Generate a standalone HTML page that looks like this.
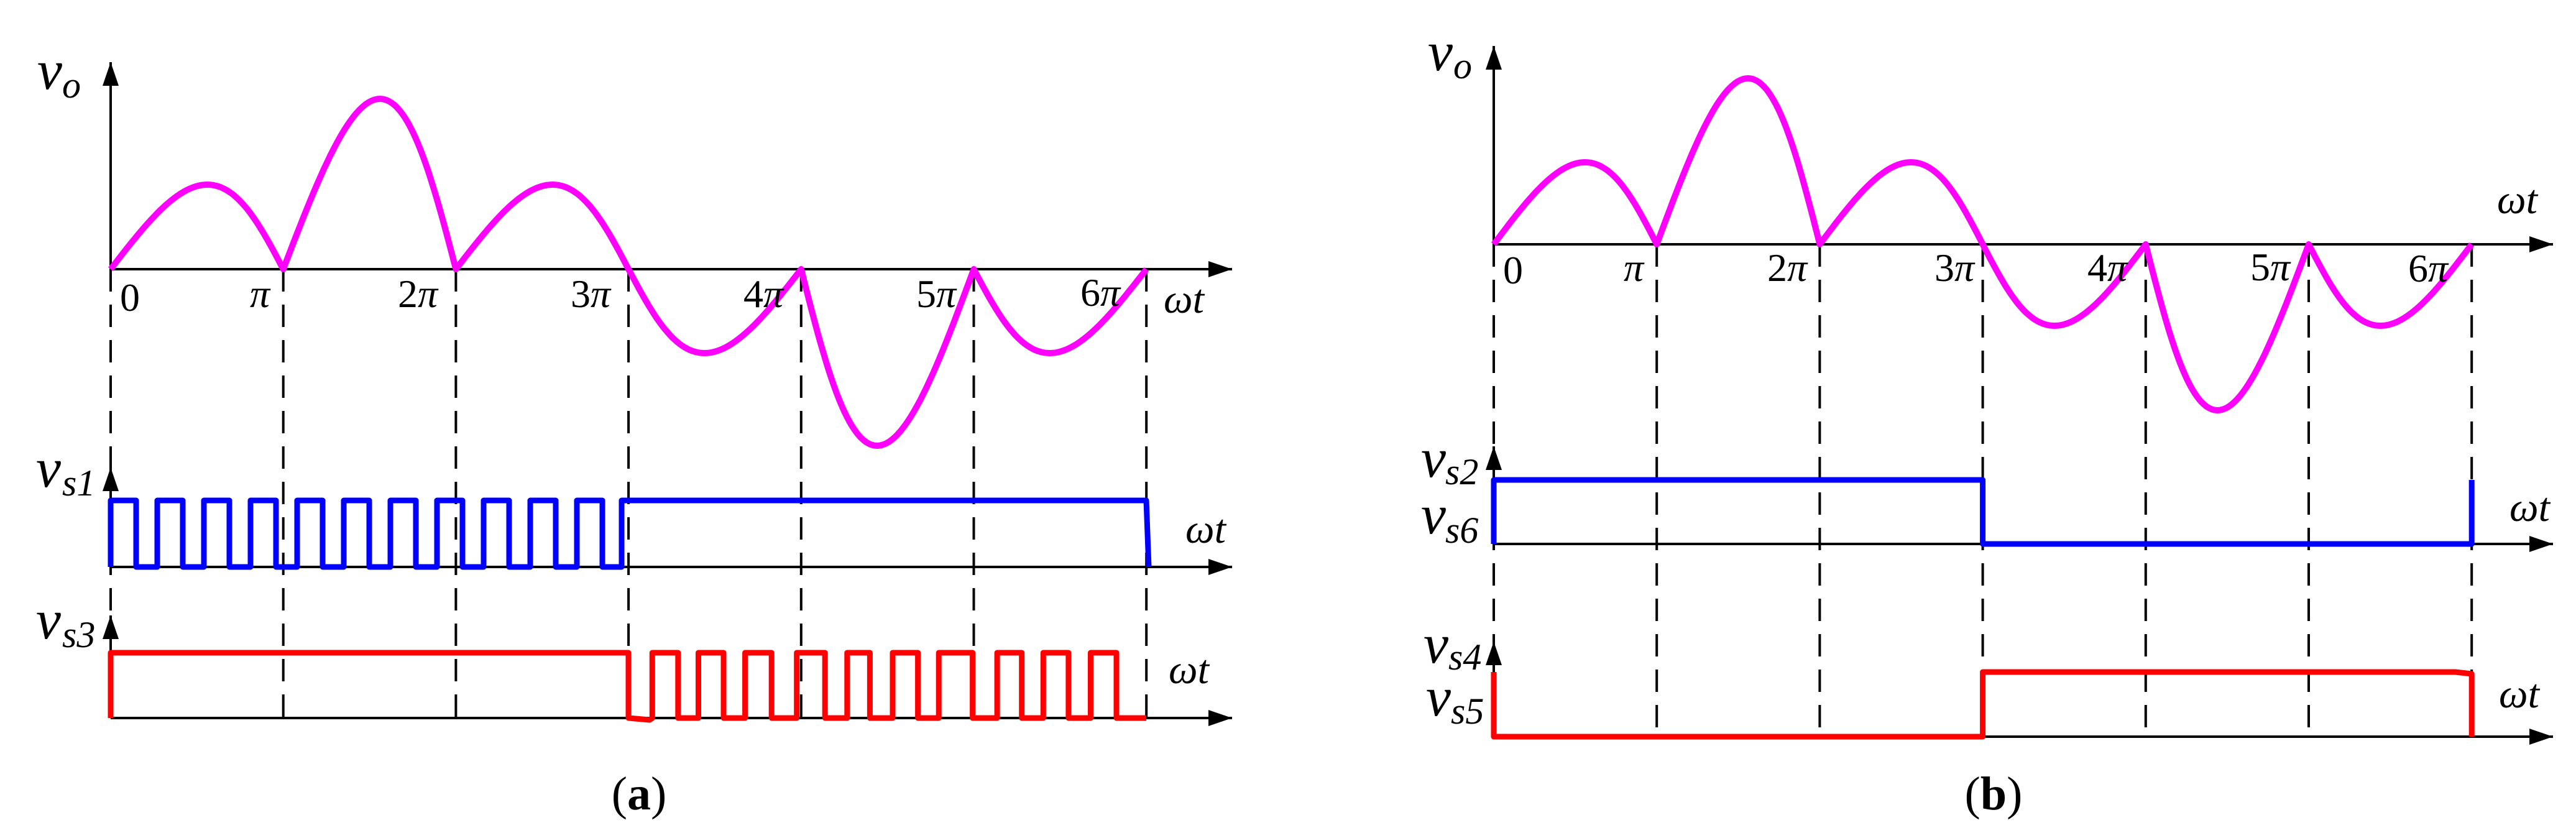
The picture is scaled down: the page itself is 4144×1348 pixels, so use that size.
<!DOCTYPE html>
<html><head><meta charset="utf-8"><style>
html,body{margin:0;padding:0;background:#fff;}
svg{display:block;}
text{font-family:"Liberation Serif",serif;fill:#000;}
.it{font-style:italic;}
</style></head><body>
<svg id="s" width="4144" height="1348" viewBox="0 0 4144 1348" xmlns="http://www.w3.org/2000/svg">
<defs>
<marker id="ar" markerWidth="40" markerHeight="28" refX="38" refY="13" orient="auto" markerUnits="userSpaceOnUse">
<path d="M0,0 L38,13 L0,26 Z" fill="#000"/>
</marker>
</defs>
<g id="g"></g>
<!-- left labels -->
<text class="it" x="60" y="143" font-size="90">v</text><text class="it" x="100" y="157" font-size="60">o</text>
<text x="193" y="500" font-size="64">0</text>
<text class="it" x="402" y="494" font-size="64">π</text>
<text x="640" y="494" font-size="64">2<tspan class="it">π</tspan></text>
<text x="918" y="494" font-size="64">3<tspan class="it">π</tspan></text>
<text x="1196" y="494" font-size="64">4<tspan class="it">π</tspan></text>
<text x="1474" y="494" font-size="64">5<tspan class="it">π</tspan></text>
<text x="1738" y="492" font-size="64">6<tspan class="it">π</tspan></text>
<text class="it" x="1872" y="503" font-size="66">ωt</text>
<text class="it" x="58" y="783" font-size="90">v</text><text class="it" x="100" y="797" font-size="60">s1</text>
<text class="it" x="1907" y="873" font-size="66">ωt</text>
<text class="it" x="58" y="1027" font-size="90">v</text><text class="it" x="100" y="1041" font-size="60">s3</text>
<text class="it" x="1880" y="1099" font-size="66">ωt</text>
<text x="1028" y="1302" font-size="76" text-anchor="middle">(<tspan font-weight="bold">a</tspan>)</text>
<!-- right labels -->
<text class="it" x="2297" y="113" font-size="90">v</text><text class="it" x="2338" y="126" font-size="60">o</text>
<text class="it" x="4017" y="343" font-size="66">ωt</text>
<text x="2418" y="456" font-size="64">0</text>
<text class="it" x="2612" y="452" font-size="64">π</text>
<text x="2843" y="452" font-size="64">2<tspan class="it">π</tspan></text>
<text x="3112" y="452" font-size="64">3<tspan class="it">π</tspan></text>
<text x="3358" y="452" font-size="64">4<tspan class="it">π</tspan></text>
<text x="3620" y="451" font-size="64">5<tspan class="it">π</tspan></text>
<text x="3874" y="453" font-size="64">6<tspan class="it">π</tspan></text>
<text class="it" x="2286" y="767" font-size="90">v</text><text class="it" x="2325" y="779" font-size="60">s2</text>
<text class="it" x="2286" y="858" font-size="90">v</text><text class="it" x="2325" y="873" font-size="60">s6</text>
<text class="it" x="4037" y="838" font-size="66">ωt</text>
<text class="it" x="2290" y="1066" font-size="90">v</text><text class="it" x="2330" y="1077" font-size="60">s4</text>
<text class="it" x="2294" y="1151" font-size="90">v</text><text class="it" x="2334" y="1164" font-size="60">s5</text>
<text class="it" x="4020" y="1138" font-size="66">ωt</text>
<text x="3207" y="1302" font-size="76" text-anchor="middle">(<tspan font-weight="bold">b</tspan>)</text>
</svg>
<script>
(function(){
var g=document.getElementById('g'),out='';
function line(x1,y1,x2,y2,ex){out+='<line x1="'+x1+'" y1="'+y1+'" x2="'+x2+'" y2="'+y2+'" '+ex+'/>';}
function wave(x0,P,y0,amps){var d='';for(var k=0;k<6;k++){var sk=amps[k]>0?0.06:-0.06;for(var i=0;i<=60;i++){var t=i/60;var u=t+sk*Math.sin(Math.PI*t);var x=x0+P*(k+u);var y=y0-amps[k]*Math.sin(Math.PI*t);d+=(d?'L':'M')+x.toFixed(1)+','+y.toFixed(1);}}
out+='<path d="'+d+'" fill="none" stroke="#ff00ff" stroke-width="10" stroke-linejoin="round"/>';}
function poly(pts,col){out+='<polyline points="'+pts.map(function(p){return p[0].toFixed(1)+','+p[1].toFixed(1)}).join(' ')+'" fill="none" stroke="'+col+'" stroke-width="9" stroke-linejoin="round"/>';}
var dash='stroke="#000" stroke-width="4" stroke-dasharray="36 21"';
var ax='stroke="#000" stroke-width="4" marker-end="url(#ar)"';
var L0=178,LP=277.7;
for(var k=0;k<=6;k++){var x=L0+LP*k;line(x,433,x,1155,dash);}
line(178,433,178,100,ax);line(178,433,1982,433,ax);
line(178,912,178,752,ax);line(178,912,1982,912,ax);
line(178,1155,178,990,ax);line(178,1155,1982,1155,ax);
wave(L0,LP,433,[136,274,136,-135,-284,-135]);
var b=[[178,912],[178,805]],T=805,B=912;
for(var k=0;k<11;k++){var r=178+75*k;if(k>0){b.push([r,B]);b.push([r,T]);}b.push([r+41,T]);b.push([r+41,B]);}
b.push([1000,B]);b.push([1000,T]);b.push([1844,T]);b.push([1848,B]);
poly(b,'#0000ff');
var RT=1050,RB=1155;
var rr=[[178,RB],[178,RT],[1011,RT],[1011,RB],[1045,RB+3]];
var rises=[1061,1136,1212,1296,1378,1452,1527,1622,1697,1774],falls=[1103,1177,1255,1342,1415,1493,1582,1662,1738,1816];
for(var i=0;i<10;i++){var a=178+(rises[i]-180)*0.989,f=178+(falls[i]-180)*0.989;rr.push([a,RB]);rr.push([a,RT]);rr.push([f,RT]);rr.push([f,RB]);}
rr.push([1844,RB]);
poly(rr,'#ff0000');
var R0=2403,RP=262.2;
for(var k=0;k<=6;k++){var x=R0+RP*k;line(x,393,x,1185,dash);}
line(2403,393,2403,74,ax);line(2403,393,4107,393,ax);
line(2403,875,2403,718,ax);line(2403,875,4107,875,ax);
line(2403,1185,2403,1032,ax);line(2403,1185,4107,1185,ax);
wave(R0,RP,393,[132,267,132,-131,-267,-131]);
var x3=R0+3*RP,x6=R0+6*RP;
poly([[2403,875],[2403,772],[x3,772],[x3,875],[x6,875],[x6,772]],'#0000ff');
poly([[2403,1081],[2403,1185],[x3,1185],[x3,1081],[3950,1081],[x6,1084],[x6,1185]],'#ff0000');
g.innerHTML=out;
})();
</script>
</body></html>
